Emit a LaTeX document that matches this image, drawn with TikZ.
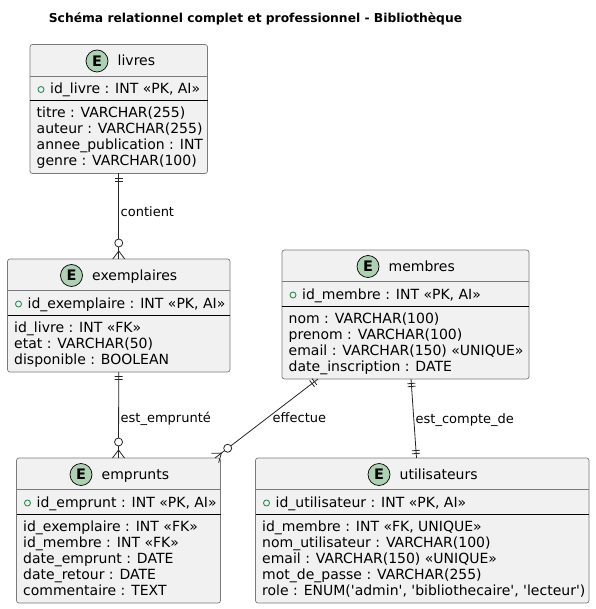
\documentclass[tikz,border=0pt]{standalone}
\usepackage{fontspec}
\setmainfont{DejaVu Sans}[Ligatures=TeXOff]
\usetikzlibrary{calc}
\definecolor{entfill}{HTML}{F1F1F1}
\definecolor{entborder}{HTML}{7A7A7A}
\definecolor{ecircfill}{HTML}{ADD1B2}
\definecolor{pkgreen}{HTML}{2E8B57}
\newcommand{\enttext}{\fontsize{14}{16}\selectfont}
\newcommand{\lbltext}{\fontsize{13}{15}\selectfont}

\newcommand{\mkentity}[7]{%
  \pgfmathsetmacro{\enth}{65+16*#5}%
  \node[ent, minimum width=#4pt, minimum height=\enth pt] (#1) at (#2,#3) {};
  \draw[hsep] ($(#1.north west)+(0,31.5)$) -- ($(#1.north east)+(0,31.5)$);
  \draw[dsep] ($(#1.north west)+(0,56)$) -- ($(#1.north east)+(0,56)$);
  \node[ecirc] (#1-E) at (#6,#3+16.5) {E};
  \node[etxt] (#1-title) at (#6+20.5,#3+21) {#7};
}
\newcommand{\mkpk}[2]{%
  \node[pkmark] (#1-pkm) at ($(#1.north west)+(11,45)$) {};
  \node[etxt] (#1-pk) at ($(#1.north west)+(20,49.5)$) {#2};
}
\newcommand{\mkattrs}[2]{%
  \foreach \t [count=\i from 0] in {#2} {
    \node[etxt] (#1-a\i) at ($(#1.north west)+(6.5,73+16*\i)$) {\t};
  }
}
% double bar (exactly one) at end #1, line going to #2
\newcommand{\onebars}[2]{%
  \path ($(#1)!4.5pt!(#2)$) coordinate (tmpP) ($(#1)!7.5pt!(#2)$) coordinate (tmpQ);
  \draw[conn] ($(tmpP)!4pt!90:(#2)$) -- ($(tmpP)!4pt!-90:(#2)$);
  \draw[conn] ($(tmpQ)!4pt!90:(#2)$) -- ($(tmpQ)!4pt!-90:(#2)$);
}
% zero or many at end #1, line going to #2
\newcommand{\crowzero}[2]{%
  \path ($(#1)!8pt!(#2)$) coordinate (tmpA) ($(#1)!16pt!(#2)$) coordinate (tmpC);
  \draw[conn] ($(#1)!6pt!90:(#2)$) -- (tmpA) -- ($(#1)!6pt!-90:(#2)$);
  \draw[conn, fill=white] (tmpC) circle[radius=4pt];
}

\begin{document}
\begin{tikzpicture}[x=1pt,y=-1pt,
  ent/.style={draw=entborder, fill=entfill, line width=0.7pt, rounded corners=2.5pt, anchor=north west, inner sep=0pt, outer sep=0pt},
  etxt/.style={anchor=base west, inner sep=0pt, font=\enttext, text=black},
  ecirc/.style={circle, draw=black, line width=0.7pt, fill=ecircfill, minimum size=22pt, inner sep=0pt, font=\fontsize{14.5}{15}\selectfont\bfseries},
  pkmark/.style={circle, draw=pkgreen, line width=0.9pt, minimum size=6pt, inner sep=0pt},
  hsep/.style={draw=entborder, line width=0.6pt},
  dsep/.style={draw=black, line width=0.8pt},
  conn/.style={draw=black!85, line width=0.8pt},
  lbl/.style={anchor=base west, inner sep=0pt, font=\lbltext},
  ttl/.style={anchor=base, inner sep=0pt, font=\fontsize{12.3}{15}\selectfont\bfseries}
]
\useasboundingbox (0,0) rectangle (595,609);
\fill[white] (0,0) rectangle (595,609);

\node[ttl] (title) at (255.5,22.5) {Schéma relationnel complet et professionnel - Bibliothèque};

\mkentity{livres}{30}{44.5}{177.5}{4}{97}{livres}
\mkpk{livres}{id\_livre : INT «PK, AI»}
\mkattrs{livres}{{titre : VARCHAR(255)},{auteur : VARCHAR(255)},{annee\_publication : INT},{genre : VARCHAR(100)}}

\mkentity{exemplaires}{7.5}{259}{222.5}{3}{71.5}{exemplaires}
\mkpk{exemplaires}{id\_exemplaire : INT «PK, AI»}
\mkattrs{exemplaires}{{id\_livre : INT «FK»},{etat : VARCHAR(50)},{disponible : BOOLEAN}}

\mkentity{membres}{282}{250}{247}{4}{368}{membres}
\mkpk{membres}{id\_membre : INT «PK, AI»}
\mkattrs{membres}{{nom : VARCHAR(100)},{prenom : VARCHAR(100)},{email : VARCHAR(150) «UNIQUE»},{date\_inscription : DATE}}

\mkentity{emprunts}{16.5}{458}{204}{5}{81}{emprunts}
\mkpk{emprunts}{id\_emprunt : INT «PK, AI»}
\mkattrs{emprunts}{{id\_exemplaire : INT «FK»},{id\_membre : INT «FK»},{date\_emprunt : DATE},{date\_retour : DATE},{commentaire : TEXT}}

\mkentity{utilisateurs}{255.5}{458}{333.5}{5}{379}{utilisateurs}
\mkpk{utilisateurs}{id\_utilisateur : INT «PK, AI»}
\mkattrs{utilisateurs}{{id\_membre : INT «FK, UNIQUE»},{nom\_utilisateur : VARCHAR(100)},{email : VARCHAR(150) «UNIQUE»},{mot\_de\_passe : VARCHAR(255)},{role : ENUM('admin', 'bibliothecaire', 'lecteur')}}

% connectors
\draw[conn] (livres.south) -- (exemplaires.north);
\onebars{livres.south}{exemplaires.north}
\crowzero{exemplaires.north}{livres.south}
\node[lbl] (l-contient) at (120.5,216.5) {contient};

\draw[conn] (exemplaires.south) -- (emprunts.north);
\onebars{exemplaires.south}{emprunts.north}
\crowzero{emprunts.north}{exemplaires.south}
\node[lbl] (l-emprunte) at (120.5,422.5) {est\_emprunté};

\coordinate (m-e) at ($(membres.south west)+(36,0)$);
\coordinate (e-m) at ($(emprunts.north west)+(198.5,0)$);
\draw[conn] (m-e) -- (e-m);
\onebars{m-e}{e-m}
\crowzero{e-m}{m-e}
\node[lbl] (l-effectue) at (272.5,422.5) {effectue};

\coordinate (m-u) at ($(membres.south west)+(129,0)$);
\coordinate (u-m) at ($(utilisateurs.north west)+(161,0)$);
\draw[conn] (m-u) -- (u-m);
\onebars{m-u}{u-m}
\onebars{u-m}{m-u}
\node[lbl] (l-compte) at (415.5,423) {est\_compte\_de};
\end{tikzpicture}
\end{document}
